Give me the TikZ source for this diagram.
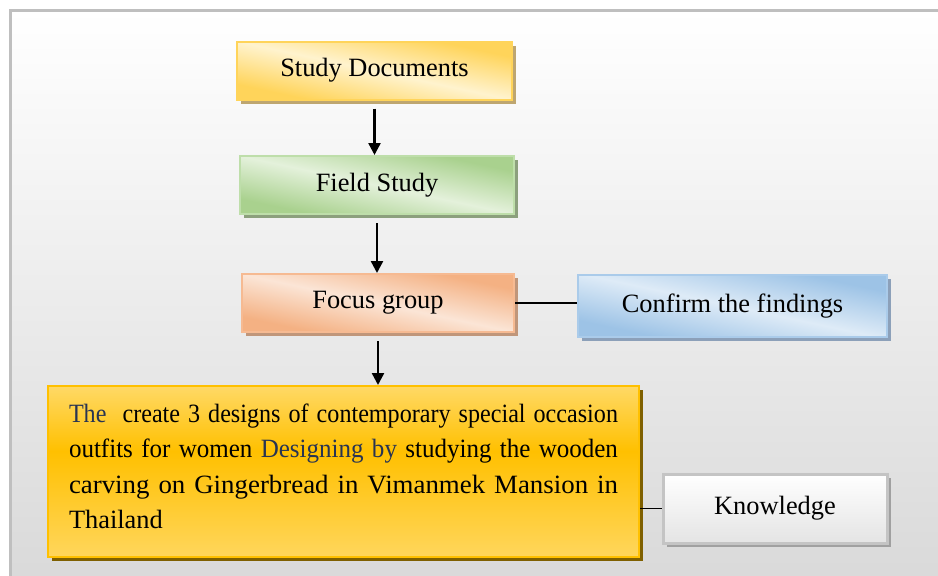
\documentclass[tikz,border=0pt]{standalone}
\usepackage{fontspec}
\setmainfont{Liberation Serif}
\usetikzlibrary{arrows.meta,shadows}
\definecolor{framegray}{RGB}{191,191,191}
\definecolor{bggray}{RGB}{214,214,214}
\definecolor{inkblue}{RGB}{40,52,82}
\definecolor{docsdark}{RGB}{255,212,90}
\definecolor{docslight}{RGB}{255,243,206}
\definecolor{docsline}{RGB}{255,212,90}
\definecolor{docsshadow}{RGB}{190,166,112}
\definecolor{fielddark}{RGB}{169,209,142}
\definecolor{fieldlight}{RGB}{228,241,219}
\definecolor{fieldline}{RGB}{190,222,170}
\definecolor{fieldshadow}{RGB}{140,160,125}
\definecolor{focusdark}{RGB}{244,177,131}
\definecolor{focuslight}{RGB}{251,229,214}
\definecolor{focusline}{RGB}{246,186,146}
\definecolor{focusshadow}{RGB}{192,150,122}
\definecolor{confdark}{RGB}{157,195,230}
\definecolor{conflight}{RGB}{222,235,247}
\definecolor{confline}{RGB}{170,203,234}
\definecolor{confshadow}{RGB}{140,160,185}
\definecolor{bigtop}{RGB}{255,217,102}
\definecolor{bigmid}{RGB}{255,192,0}
\definecolor{bigbot}{RGB}{255,214,92}
\definecolor{bigline}{RGB}{255,192,0}
\definecolor{bigshadow}{RGB}{127,96,0}
\definecolor{knowbot}{RGB}{228,228,228}
\definecolor{knowline}{RGB}{196,196,196}
\definecolor{knowshadow}{RGB}{160,160,160}
\pgfdeclarehorizontalshading{docsfade}{100bp}{color(0bp)=(docsdark); color(28bp)=(docsdark); color(50bp)=(docslight); color(72bp)=(docsdark); color(100bp)=(docsdark)}
\pgfdeclarehorizontalshading{fieldfade}{100bp}{color(0bp)=(fielddark); color(28bp)=(fielddark); color(50bp)=(fieldlight); color(72bp)=(fielddark); color(100bp)=(fielddark)}
\pgfdeclarehorizontalshading{focusfade}{100bp}{color(0bp)=(focusdark); color(28bp)=(focusdark); color(50bp)=(focuslight); color(72bp)=(focusdark); color(100bp)=(focusdark)}
\pgfdeclarehorizontalshading{conffade}{100bp}{color(0bp)=(confdark); color(28bp)=(confdark); color(50bp)=(conflight); color(72bp)=(confdark); color(100bp)=(confdark)}
\pgfdeclareverticalshading{bigfade}{100bp}{color(0bp)=(bigbot); color(25bp)=(bigbot); color(56bp)=(bigmid); color(75bp)=(bigtop); color(100bp)=(bigtop)}
\pgfdeclareverticalshading{knowfade}{100bp}{color(0bp)=(knowbot); color(25bp)=(knowbot); color(75bp)=(white); color(100bp)=(white)}
\def\boxh{58pt}
\def\bigtextw{549pt}
\newcommand{\fitline}[1]{\resizebox{\bigtextw}{\height}{#1}}
\tikzset{
  stepbox/.style={rectangle,minimum height=\boxh,inner sep=0pt,line width=2pt,font=\fontsize{26.4}{35.5}\selectfont},
  boxshadow/.style={drop shadow={fill=#1,opacity=1,shadow xshift=4pt,shadow yshift=-4pt}},
  diagfill/.style={shading=#1,shading angle=78},
  flow/.style={line width=2.4pt,-{Triangle[length=12pt,width=12pt]},shorten <=8pt},
  link/.style={line width=1.8pt}
}

\begin{document}
\begin{tikzpicture}[x=1pt,y=-1pt]
\useasboundingbox (0,0) rectangle (938,576);
\path[top color=white,bottom color=bggray,draw=framegray,line width=3pt] (10.5,10.5) rectangle (990,630);

\node[stepbox,minimum width=275pt,draw=docsline,diagfill=docsfade,boxshadow=docsshadow] (docs) at (374.5,70.5) {Study Documents};
\node[stepbox,minimum width=274pt,draw=fieldline,diagfill=fieldfade,boxshadow=fieldshadow] (field) at (377,185) {Field Study};
\node[stepbox,minimum width=272pt,draw=focusline,diagfill=focusfade,boxshadow=focusshadow] (focus) at (378,303) {Focus group};
\node[stepbox,minimum width=309pt,minimum height=62pt,draw=confline,diagfill=conffade,boxshadow=confshadow] (confirm) at (732.5,306) {Confirm the findings};
\node[stepbox,minimum width=591pt,minimum height=171pt,inner xsep=21pt,text width=\bigtextw,align=left,draw=bigline,shading=bigfade,boxshadow=bigshadow] (outfits) at (343.5,471.5) {\fitline{\textcolor{inkblue}{The}\ \ create 3 designs of contemporary special occasion}\\
\fitline{outfits for women \textcolor{inkblue}{Designing by} studying the wooden}\\
\fitline{carving on Gingerbread in Vimanmek Mansion in}\\
Thailand\\[-25pt]\mbox{}};
\node[stepbox,minimum width=224pt,minimum height=69pt,line width=3pt,draw=knowline,shading=knowfade,boxshadow=knowshadow] (knowledge) at (775,508.5) {Knowledge};

\draw[flow] (docs.south) -- (docs.south |- field.north);
\draw[flow] (field.south) -- (field.south |- focus.north);
\draw[flow] (focus.south) -- (focus.south |- outfits.north);
\draw[link] (focus.east) -- (focus.east -| confirm.west);
\draw[link] (knowledge.west -| outfits.east) -- (knowledge.west);
\end{tikzpicture}
\end{document}
